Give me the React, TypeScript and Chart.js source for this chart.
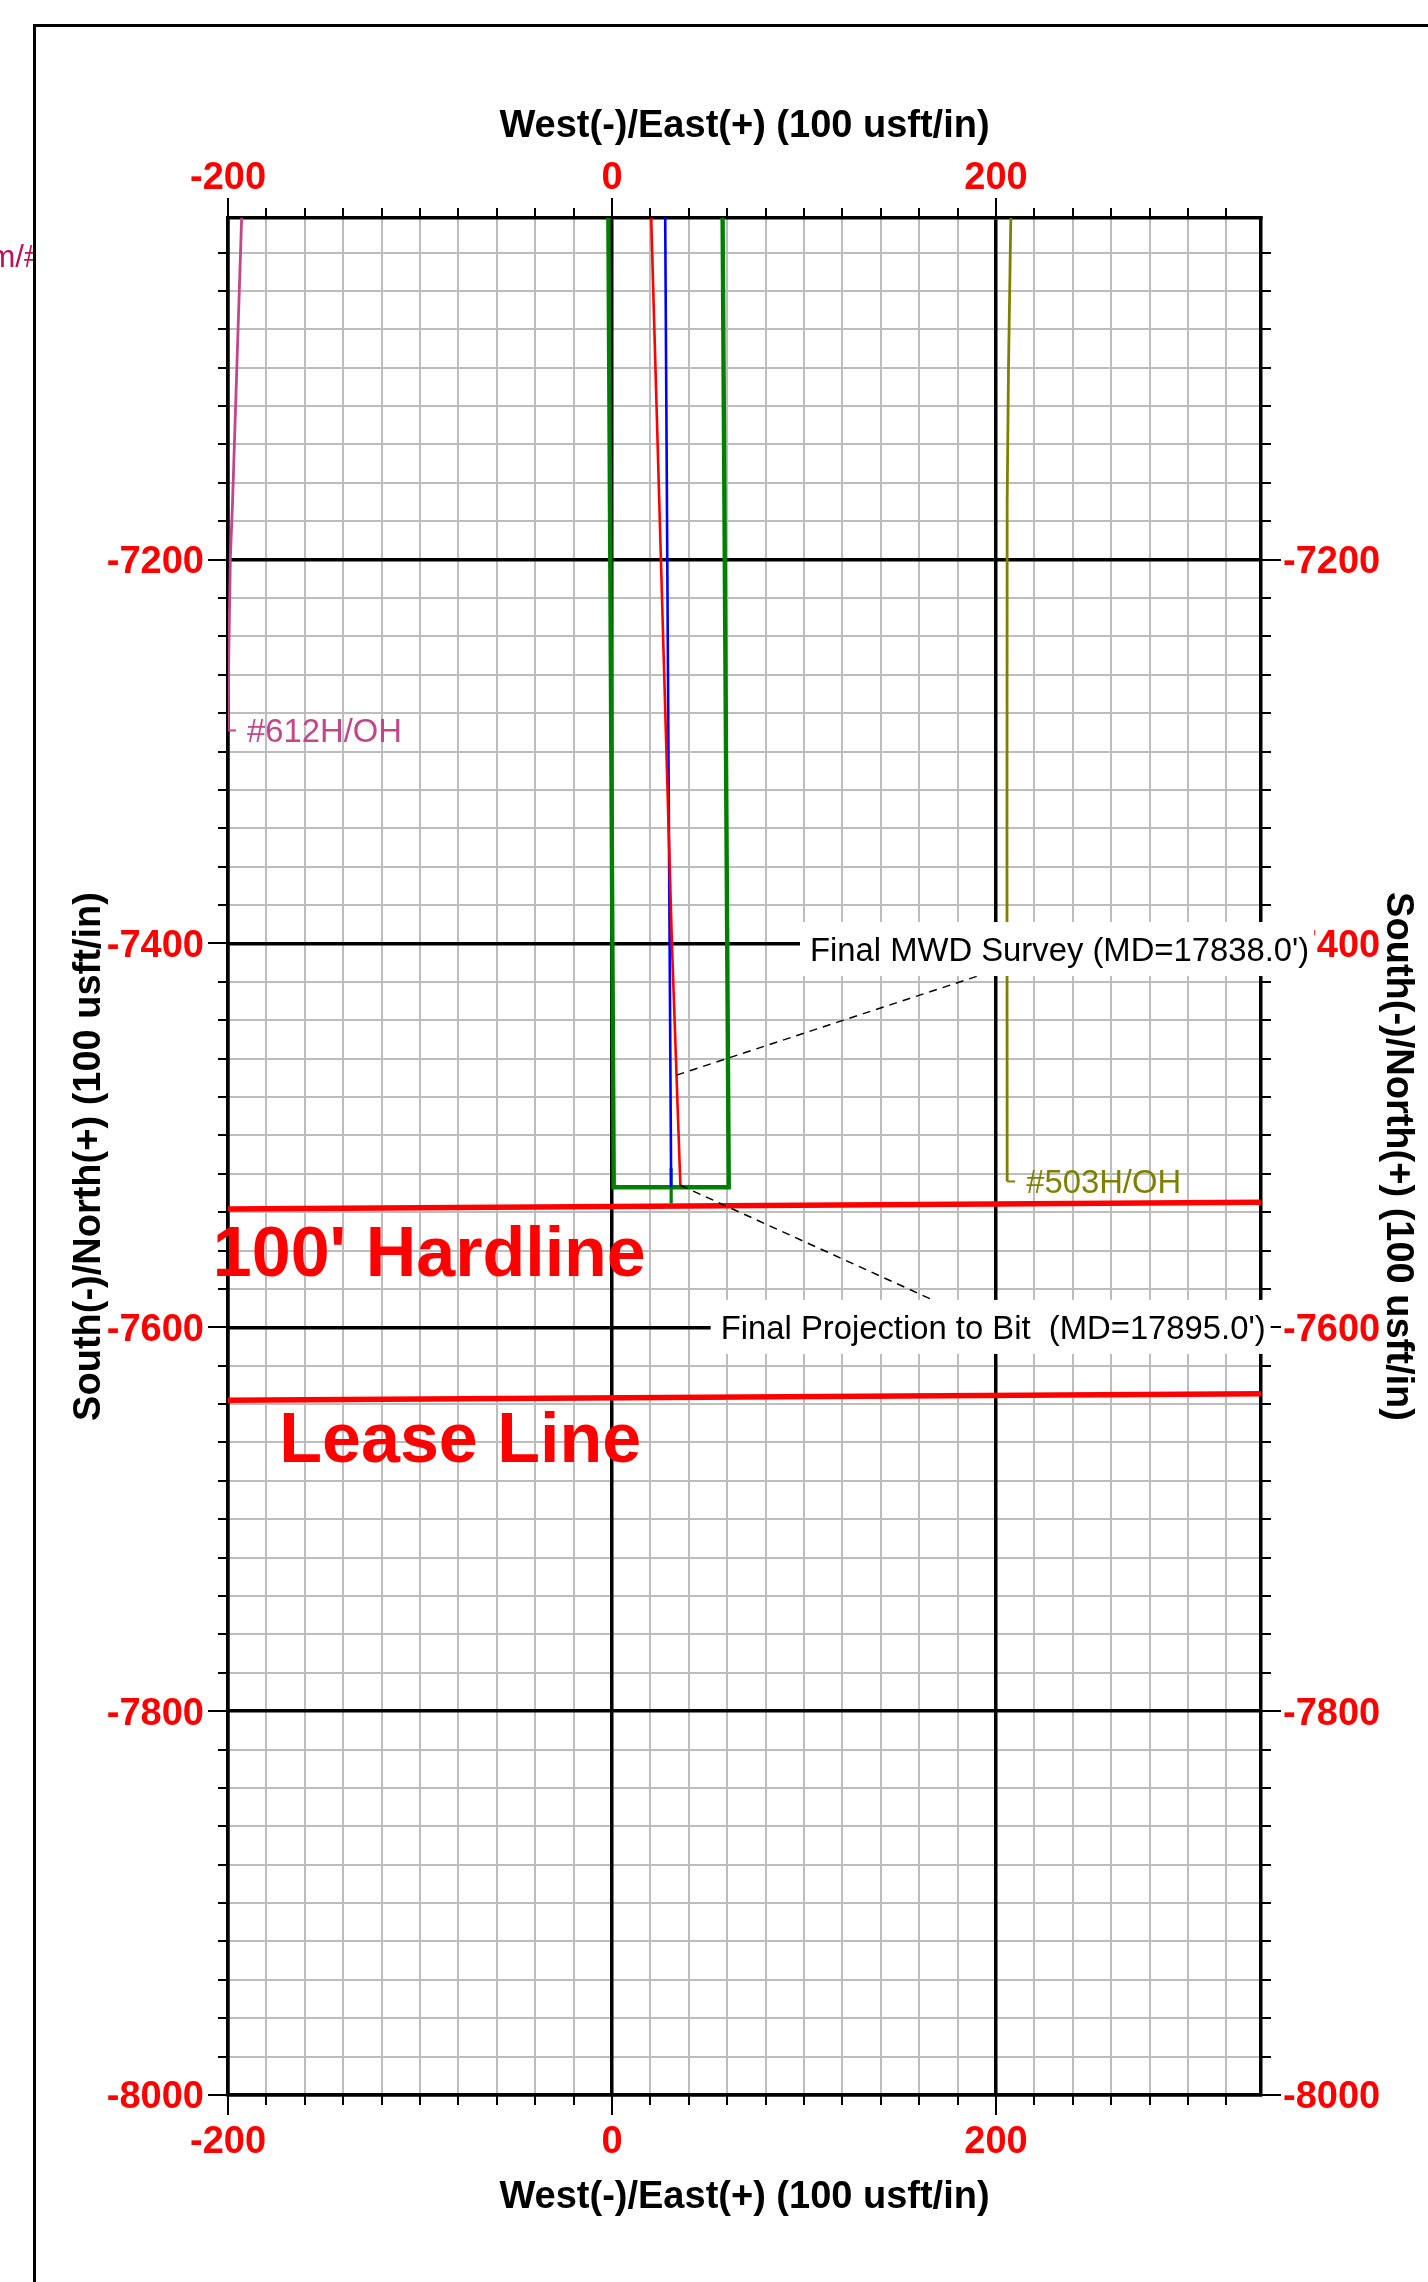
import React, { useEffect, useRef } from "react";
import { Chart, registerables } from "chart.js";

Chart.register(...registerables);

const FONT = "'Liberation Sans', Arial, Helvetica, sans-serif";
Chart.defaults.font.family = FONT;

const W = 1428;
const H = 2282;

// ---- axes ----
const eastMin = -200;
const eastMax = 338;
const northMin = -8000;
const northMax = -7022;
const minorStep = 20;
const majorStep = 200;
const eastTickLabels = [-200, 0, 200];
const northTickLabels = [-8000, -7800, -7600, -7400, -7200];
const axisTitleX = "West(-)/East(+) (100 usft/in)";
const axisTitleY = "South(-)/North(+) (100 usft/in)";

// ---- offset wells ----
const well612East = [-192.9, -195.4, -197.6, -198.8, -199.6, -200.0];
const well612North = [-7022, -7100, -7169, -7200, -7250, -7289];
const well612Label = "#612H/OH";

const well503East = [207.7, 206.5, 205.8, 205.7, 205.8];
const well503North = [-7022, -7100, -7169, -7350, -7524];
const well503Label = "#503H/OH";

// ---- subject well ----
const planEast = [27.7, 30.0, 30.8];
const planNorth = [-7022, -7400, -7527];

const actualEast = [20.4, 26.9, 31.2, 35.6];
const actualNorth = [-7022, -7250, -7400, -7526];

const windowEast = [-1.9, 0.9, 60.8, 57.6];
const windowNorth = [-7022, -7527, -7527, -7022];

const stubEast = [30.8, 30.8];
const stubNorth = [-7517, -7535.5];

// ---- boundaries ----
const hardlineEast = [-200, 338];
const hardlineNorth = [-7538.4, -7534.9];
const leaseEast = [-200, 338];
const leaseNorth = [-7638, -7634.6];

// ---- annotation leaders ----
const mwdLeaderEast = [33.6, 190.7];
const mwdLeaderNorth = [-7468.6, -7416.9];
const bitLeaderEast = [35.6, 167.6];
const bitLeaderNorth = [-7526, -7586];

// ---- annotation texts (anchor in data units: left edge, cap centre) ----
const hardlineText = "100' Hardline";
const hardlineAnchor = [-207.9, -7560.0];
const leaseText = "Lease Line";
const leaseAnchor = [-173.3, -7657.2];
const mwdText = "Final MWD Survey (MD=17838.0')";
const mwdAnchor = [103.1, -7402.9];
const bitText = "Final Projection to Bit  (MD=17895.0')";
const bitAnchor = [56.6, -7599.8];
const cutText = "m/#";

const pts = (e: number[], n: number[]) => e.map((x, i) => ({ x, y: n[i] }));

const line = (data: any, color: string, width: number, extra: any = {}) => ({
  data,
  showLine: true,
  borderColor: color,
  backgroundColor: color,
  borderWidth: width,
  pointRadius: 0,
  pointHoverRadius: 0,
  fill: false,
  tension: 0,
  xAxisID: "x",
  yAxisID: "y",
  ...extra,
});

const isMajor = (v: number) => Math.abs(v % majorStep) < 1e-6;
const CAP = 0.358; // cap centre above baseline, in em

const overlayPlugin = {
  id: "wellOverlay",
  beforeDatasetsDraw(chart: any) {
    const ctx = chart.ctx;
    const xs = chart.scales.x;
    const ys = chart.scales.y;
    ctx.save();
    ctx.fillStyle = "#ff0000";
    ctx.font = `bold 70px ${FONT}`;
    ctx.textAlign = "left";
    ctx.textBaseline = "alphabetic";
    ctx.fillText(hardlineText, xs.getPixelForValue(hardlineAnchor[0]), ys.getPixelForValue(hardlineAnchor[1]) + CAP * 70);
    ctx.fillText(leaseText, xs.getPixelForValue(leaseAnchor[0]), ys.getPixelForValue(leaseAnchor[1]) + CAP * 70);
    ctx.restore();
  },
  afterDatasetsDraw(chart: any) {
    const ctx = chart.ctx;
    const xs = chart.scales.x;
    const ys = chart.scales.y;
    const { left, right, top, bottom } = chart.chartArea;
    ctx.save();
    // tick marks
    ctx.strokeStyle = "#000";
    ctx.lineWidth = 2;
    ctx.beginPath();
    for (const t of xs.ticks) {
      const p = Math.round(xs.getPixelForValue(t.value));
      const len = isMajor(t.value) ? 20 : 10;
      ctx.moveTo(p, top);
      ctx.lineTo(p, top - len);
      ctx.moveTo(p, bottom);
      ctx.lineTo(p, bottom + len);
    }
    for (const t of ys.ticks) {
      const p = Math.round(ys.getPixelForValue(t.value));
      const len = isMajor(t.value) ? 20 : 10;
      ctx.moveTo(left, p);
      ctx.lineTo(left - len, p);
      ctx.moveTo(right, p);
      ctx.lineTo(right + len, p);
    }
    ctx.stroke();

    // offset-well labels
    const wellLabel = (e: number[], n: number[], label: string, color: string) => {
      const ex = xs.getPixelForValue(e[e.length - 1]);
      const ey = ys.getPixelForValue(n[n.length - 1]);
      ctx.strokeStyle = color;
      ctx.lineWidth = 2;
      ctx.beginPath();
      ctx.moveTo(ex, ey);
      ctx.lineTo(ex + 8, ey);
      ctx.stroke();
      ctx.fillStyle = color;
      ctx.font = `32.8px ${FONT}`;
      ctx.textAlign = "left";
      ctx.textBaseline = "alphabetic";
      ctx.fillText(label, ex + 19, ey + CAP * 32.8);
    };
    wellLabel(well612East, well612North, well612Label, "#c4468a");
    wellLabel(well503East, well503North, well503Label, "#808000");
    ctx.restore();
  },
  afterDraw(chart: any) {
    const ctx = chart.ctx;
    const xs = chart.scales.x;
    const ys = chart.scales.y;
    ctx.save();
    const box = (text: string, anchor: number[]) => {
      const tx = xs.getPixelForValue(anchor[0]);
      const ty = ys.getPixelForValue(anchor[1]);
      ctx.font = `32.8px ${FONT}`;
      const w = ctx.measureText(text).width;
      ctx.fillStyle = "#ffffff";
      ctx.fillRect(tx - 10, ty - 27, w + 15, 54);
      ctx.fillStyle = "#000";
      ctx.textAlign = "left";
      ctx.textBaseline = "alphabetic";
      ctx.fillText(text, tx, ty + CAP * 32.8);
    };
    box(mwdText, mwdAnchor);
    box(bitText, bitAnchor);

    // clipped label at the far left
    ctx.save();
    ctx.beginPath();
    ctx.rect(0, 0, 33, H);
    ctx.clip();
    ctx.fillStyle = "#c01058";
    ctx.font = `31px ${FONT}`;
    ctx.textAlign = "left";
    ctx.textBaseline = "alphabetic";
    ctx.fillText(cutText, -10.5, 267);
    ctx.restore();

    // outer frame
    ctx.strokeStyle = "#000";
    ctx.lineWidth = 3;
    ctx.strokeRect(34.5, 25.5, 3000, 4000);
    ctx.restore();
  },
};

const tickFont = { size: 38, weight: "bold" as const, lineHeight: 1 };
const titleFont = { size: 38, weight: "bold" as const, lineHeight: 1 };

const setTicks = (values: number[]) => (s: any) => {
  s.ticks = values.map((value) => ({ value }));
};

const MAJOR_W = 3.5;
const MINOR_W = 2;
const MINOR_C = "#bdbdbd";

export default function App() {
  const ref = useRef<HTMLCanvasElement | null>(null);

  useEffect(() => {
    document.body.style.margin = "0";
    if (!ref.current) return;
    const chart = new Chart(ref.current, {
      type: "scatter",
      data: {
        datasets: [
          line(pts(mwdLeaderEast, mwdLeaderNorth), "#000", 1.5, { borderDash: [8, 6] }),
          line(pts(bitLeaderEast, bitLeaderNorth), "#000", 1.5, { borderDash: [8, 6] }),
          line(pts(actualEast, actualNorth), "#ff0000", 2.6),
          line(pts(planEast, planNorth), "#0000ff", 2.6),
          line(pts(stubEast, stubNorth), "#008000", 3.2),
          line(pts(windowEast, windowNorth), "#008000", 4.4),
          line(pts(hardlineEast, hardlineNorth), "#ff0000", 5.5),
          line(pts(leaseEast, leaseNorth), "#ff0000", 5.5),
          line(pts(well612East, well612North), "#c4468a", 2.8),
          line(pts(well503East, well503North), "#808000", 2.8),
        ],
      },
      options: {
        responsive: false,
        animation: false,
        devicePixelRatio: 1,
        layout: { padding: 0 },
        events: [],
        plugins: {
          legend: { display: false },
          tooltip: { enabled: false },
        },
        scales: {
          x: {
            type: "linear",
            axis: "x",
            position: "bottom",
            min: eastMin,
            max: eastMax,
            afterFit: (s: any) => {
              s.height = 187;
            },
            grid: { color: MINOR_C, lineWidth: MINOR_W, drawTicks: false, z: -2 },
            border: { display: true, color: "#000", width: MAJOR_W },
            ticks: {
              stepSize: minorStep,
              includeBounds: false,
              autoSkip: false,
              maxRotation: 0,
              minRotation: 0,
              padding: 29,
              color: "#ff0000",
              font: tickFont,
              callback: (v: any) => (eastTickLabels.includes(Number(v)) ? String(v) : ""),
            },
            title: {
              display: true,
              text: axisTitleX,
              color: "#000",
              font: titleFont,
              padding: { top: 0, bottom: 65 },
            },
          },
          x2: {
            type: "linear",
            axis: "x",
            position: "top",
            min: eastMin,
            max: eastMax,
            afterBuildTicks: setTicks(eastTickLabels),
            afterFit: (s: any) => {
              s.height = 218;
            },
            grid: { color: "#000", lineWidth: MAJOR_W, drawTicks: false, z: -1 },
            border: { display: true, color: "#000", width: MAJOR_W },
            ticks: {
              autoSkip: false,
              maxRotation: 0,
              minRotation: 0,
              padding: 20,
              color: "#ff0000",
              font: tickFont,
              callback: (v: any) => String(v),
            },
            title: {
              display: true,
              text: axisTitleX,
              color: "#000",
              font: titleFont,
              padding: { top: 108, bottom: 0 },
            },
          },
          y: {
            type: "linear",
            axis: "y",
            position: "left",
            min: northMin,
            max: northMax,
            afterFit: (s: any) => {
              s.width = 228;
            },
            grid: { color: MINOR_C, lineWidth: MINOR_W, drawTicks: false, z: -2 },
            border: { display: true, color: "#000", width: MAJOR_W },
            ticks: {
              stepSize: minorStep,
              includeBounds: false,
              autoSkip: false,
              padding: 24,
              labelOffset: 3,
              color: "#ff0000",
              font: tickFont,
              callback: (v: any) => (northTickLabels.includes(Number(v)) ? String(v) : ""),
            },
            title: {
              display: true,
              text: axisTitleY,
              color: "#000",
              font: titleFont,
              padding: { top: 71, bottom: 0 },
            },
          },
          y2: {
            type: "linear",
            axis: "y",
            position: "right",
            min: northMin,
            max: northMax,
            afterBuildTicks: setTicks(northTickLabels),
            afterFit: (s: any) => {
              s.width = 167;
            },
            grid: { color: "#000", lineWidth: MAJOR_W, drawTicks: false, z: -1 },
            border: { display: true, color: "#000", width: MAJOR_W },
            ticks: {
              autoSkip: false,
              padding: 22,
              labelOffset: 3,
              color: "#ff0000",
              font: tickFont,
              callback: (v: any) => String(v),
            },
            title: {
              display: true,
              text: axisTitleY,
              color: "#000",
              font: titleFont,
              padding: { top: 12, bottom: 0 },
            },
          },
        },
      } as any,
      plugins: [overlayPlugin],
    });
    return () => chart.destroy();
  }, []);

  return (
    <div style={{ width: W, height: H, background: "#fff" }}>
      <canvas ref={ref} width={W} height={H} style={{ display: "block", width: W, height: H }} />
    </div>
  );
}
